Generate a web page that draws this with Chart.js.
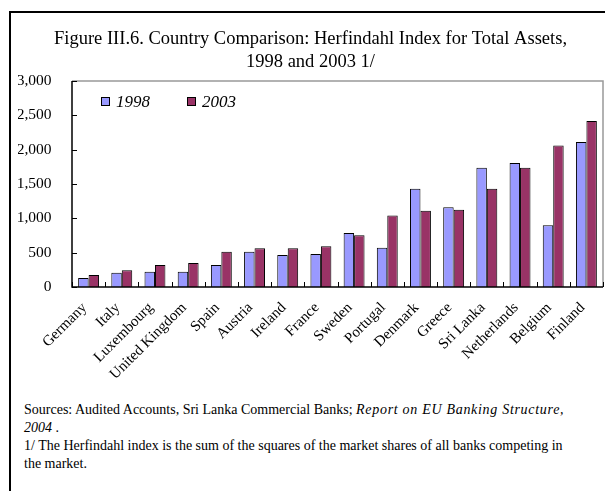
<!DOCTYPE html>
<html>
<head>
<meta charset="utf-8">
<script src="https://cdn.jsdelivr.net/npm/chart.js@4.4.0/dist/chart.umd.min.js"></script>
<style>
  html, body { margin: 0; padding: 0; background: #fff; }
  body { width: 605px; height: 491px; position: relative; overflow: hidden; font-family: "Liberation Serif", serif; }
  #frame { position: absolute; left: 9px; top: 11px; width: 700px; height: 600px; border-left: 2px solid #000; border-top: 2px solid #000; }
  #chart { position: absolute; left: 0; top: 0; }
  #notes { position: absolute; left: 24px; top: 401px; font-size: 14px; line-height: 18px; white-space: nowrap; color: #000; }
  #notes i.wide { letter-spacing: 0.7px; }
</style>
</head>
<body>
<div id="frame"></div>
<canvas id="chart" width="605" height="400"></canvas>
<div id="notes">
  Sources: Audited Accounts, Sri Lanka Commercial Banks; <i class="wide">Report on EU Banking Structure,</i><br>
  <i>2004</i> .<br>
  1/ The Herfindahl index is the sum of the squares of the market shares of all banks competing in<br>
  the market.
</div>
<script>
const titleLines = ["Figure III.6. Country Comparison: Herfindahl Index for Total Assets,", "1998 and 2003 1/"];

const countries = ["Germany", "Italy", "Luxembourg", "United Kingdom", "Spain", "Austria", "Ireland", "France",
  "Sweden", "Portugal", "Denmark", "Greece", "Sri Lanka", "Netherlands", "Belgium", "Finland"];

const hhi1998 = [131, 208, 223, 223, 320, 514, 466, 480, 786, 573, 1431, 1160, 1737, 1805, 898, 2111];
const hhi2003 = [175, 243, 320, 349, 514, 563, 563, 592, 752, 1043, 1111, 1126, 1431, 1737, 2062, 2416];

const yTicks = [0, 500, 1000, 1500, 2000, 2500, 3000];

// plot frame, inward tick marks and the legend sitting inside the plot
const plotFrame = {
  id: "plotFrame",
  afterDatasetsDraw(chart) {
    const { ctx, chartArea: a, scales: { x, y } } = chart;
    ctx.save();
    ctx.strokeStyle = "#999";
    ctx.lineWidth = 1.5;
    ctx.beginPath();
    ctx.moveTo(a.left, a.top);
    ctx.lineTo(a.right, a.top);
    ctx.lineTo(a.right, a.bottom);
    ctx.stroke();

    ctx.strokeStyle = "#000";
    ctx.lineWidth = 1;
    ctx.beginPath();
    yTicks.forEach(v => {
      const py = Math.round(y.getPixelForValue(v)) + 0.5;
      ctx.moveTo(a.left, py);
      ctx.lineTo(a.left + 5, py);
    });
    for (let i = 0; i <= countries.length; i++) {
      const px = Math.round(x.getPixelForValue(i - 0.5)) + 0.5;
      ctx.moveTo(px, a.bottom);
      ctx.lineTo(px, a.bottom - 5);
    }
    ctx.stroke();

    ctx.lineWidth = 1.5;
    ctx.beginPath();
    ctx.moveTo(a.left, a.top);
    ctx.lineTo(a.left, a.bottom);
    ctx.lineTo(a.right, a.bottom);
    ctx.stroke();

    // legend
    ctx.font = "italic 17px 'Liberation Serif'";
    ctx.textBaseline = "middle";
    ctx.textAlign = "left";
    let lx = Math.round(a.left + 29);
    const cy = Math.round(a.top + 21);
    chart.data.datasets.forEach(ds => {
      ctx.fillStyle = ds.backgroundColor;
      ctx.fillRect(lx, cy - 4, 8, 8);
      ctx.lineWidth = 1;
      ctx.strokeStyle = "#000";
      ctx.strokeRect(lx + 0.5, cy - 4.5, 8, 8);
      ctx.fillStyle = "#000";
      ctx.fillText(ds.label, lx + 15, cy + 1);
      lx += 15 + ctx.measureText(ds.label).width + 37;
    });
    ctx.restore();
  }
};

new Chart(document.getElementById("chart"), {
  type: "bar",
  data: {
    labels: countries,
    datasets: [
      { label: "1998", data: hhi1998, backgroundColor: "#9999FF", borderColor: "#000", borderWidth: 1 },
      { label: "2003", data: hhi2003, backgroundColor: "#993366", borderColor: "#000", borderWidth: 1 }
    ]
  },
  options: {
    responsive: false,
    animation: false,
    events: [],
    layout: { padding: { left: 18, right: 2, top: 0, bottom: 0 } },
    datasets: { bar: { categoryPercentage: 0.63, barPercentage: 1.0 } },
    plugins: {
      title: {
        display: true,
        text: titleLines,
        color: "#000",
        font: { family: "Liberation Serif", size: 18.5, weight: "normal", lineHeight: 1.2 },
        padding: { top: 28.4, bottom: 8.2 }
      },
      legend: { display: false },
      tooltip: { enabled: false }
    },
    scales: {
      x: {
        grid: { display: false },
        border: { display: false },
        ticks: {
          color: "#000",
          autoSkip: false,
          maxRotation: 45,
          minRotation: 45,
          padding: 4,
          labelOffset: -4,
          font: { family: "Liberation Serif", size: 15 }
        },
        afterFit(scale) { scale.height = 113; }
      },
      y: {
        min: 0,
        max: 3000,
        grid: { display: false },
        border: { display: false },
        ticks: {
          stepSize: 500,
          color: "#000",
          padding: 12.5,
          font: { family: "Liberation Serif", size: 15.5 },
          callback: v => v.toLocaleString("en-US")
        },
        afterFit(scale) { scale.width = 54; }
      }
    }
  },
  plugins: [plotFrame]
});
</script>
</body>
</html>
